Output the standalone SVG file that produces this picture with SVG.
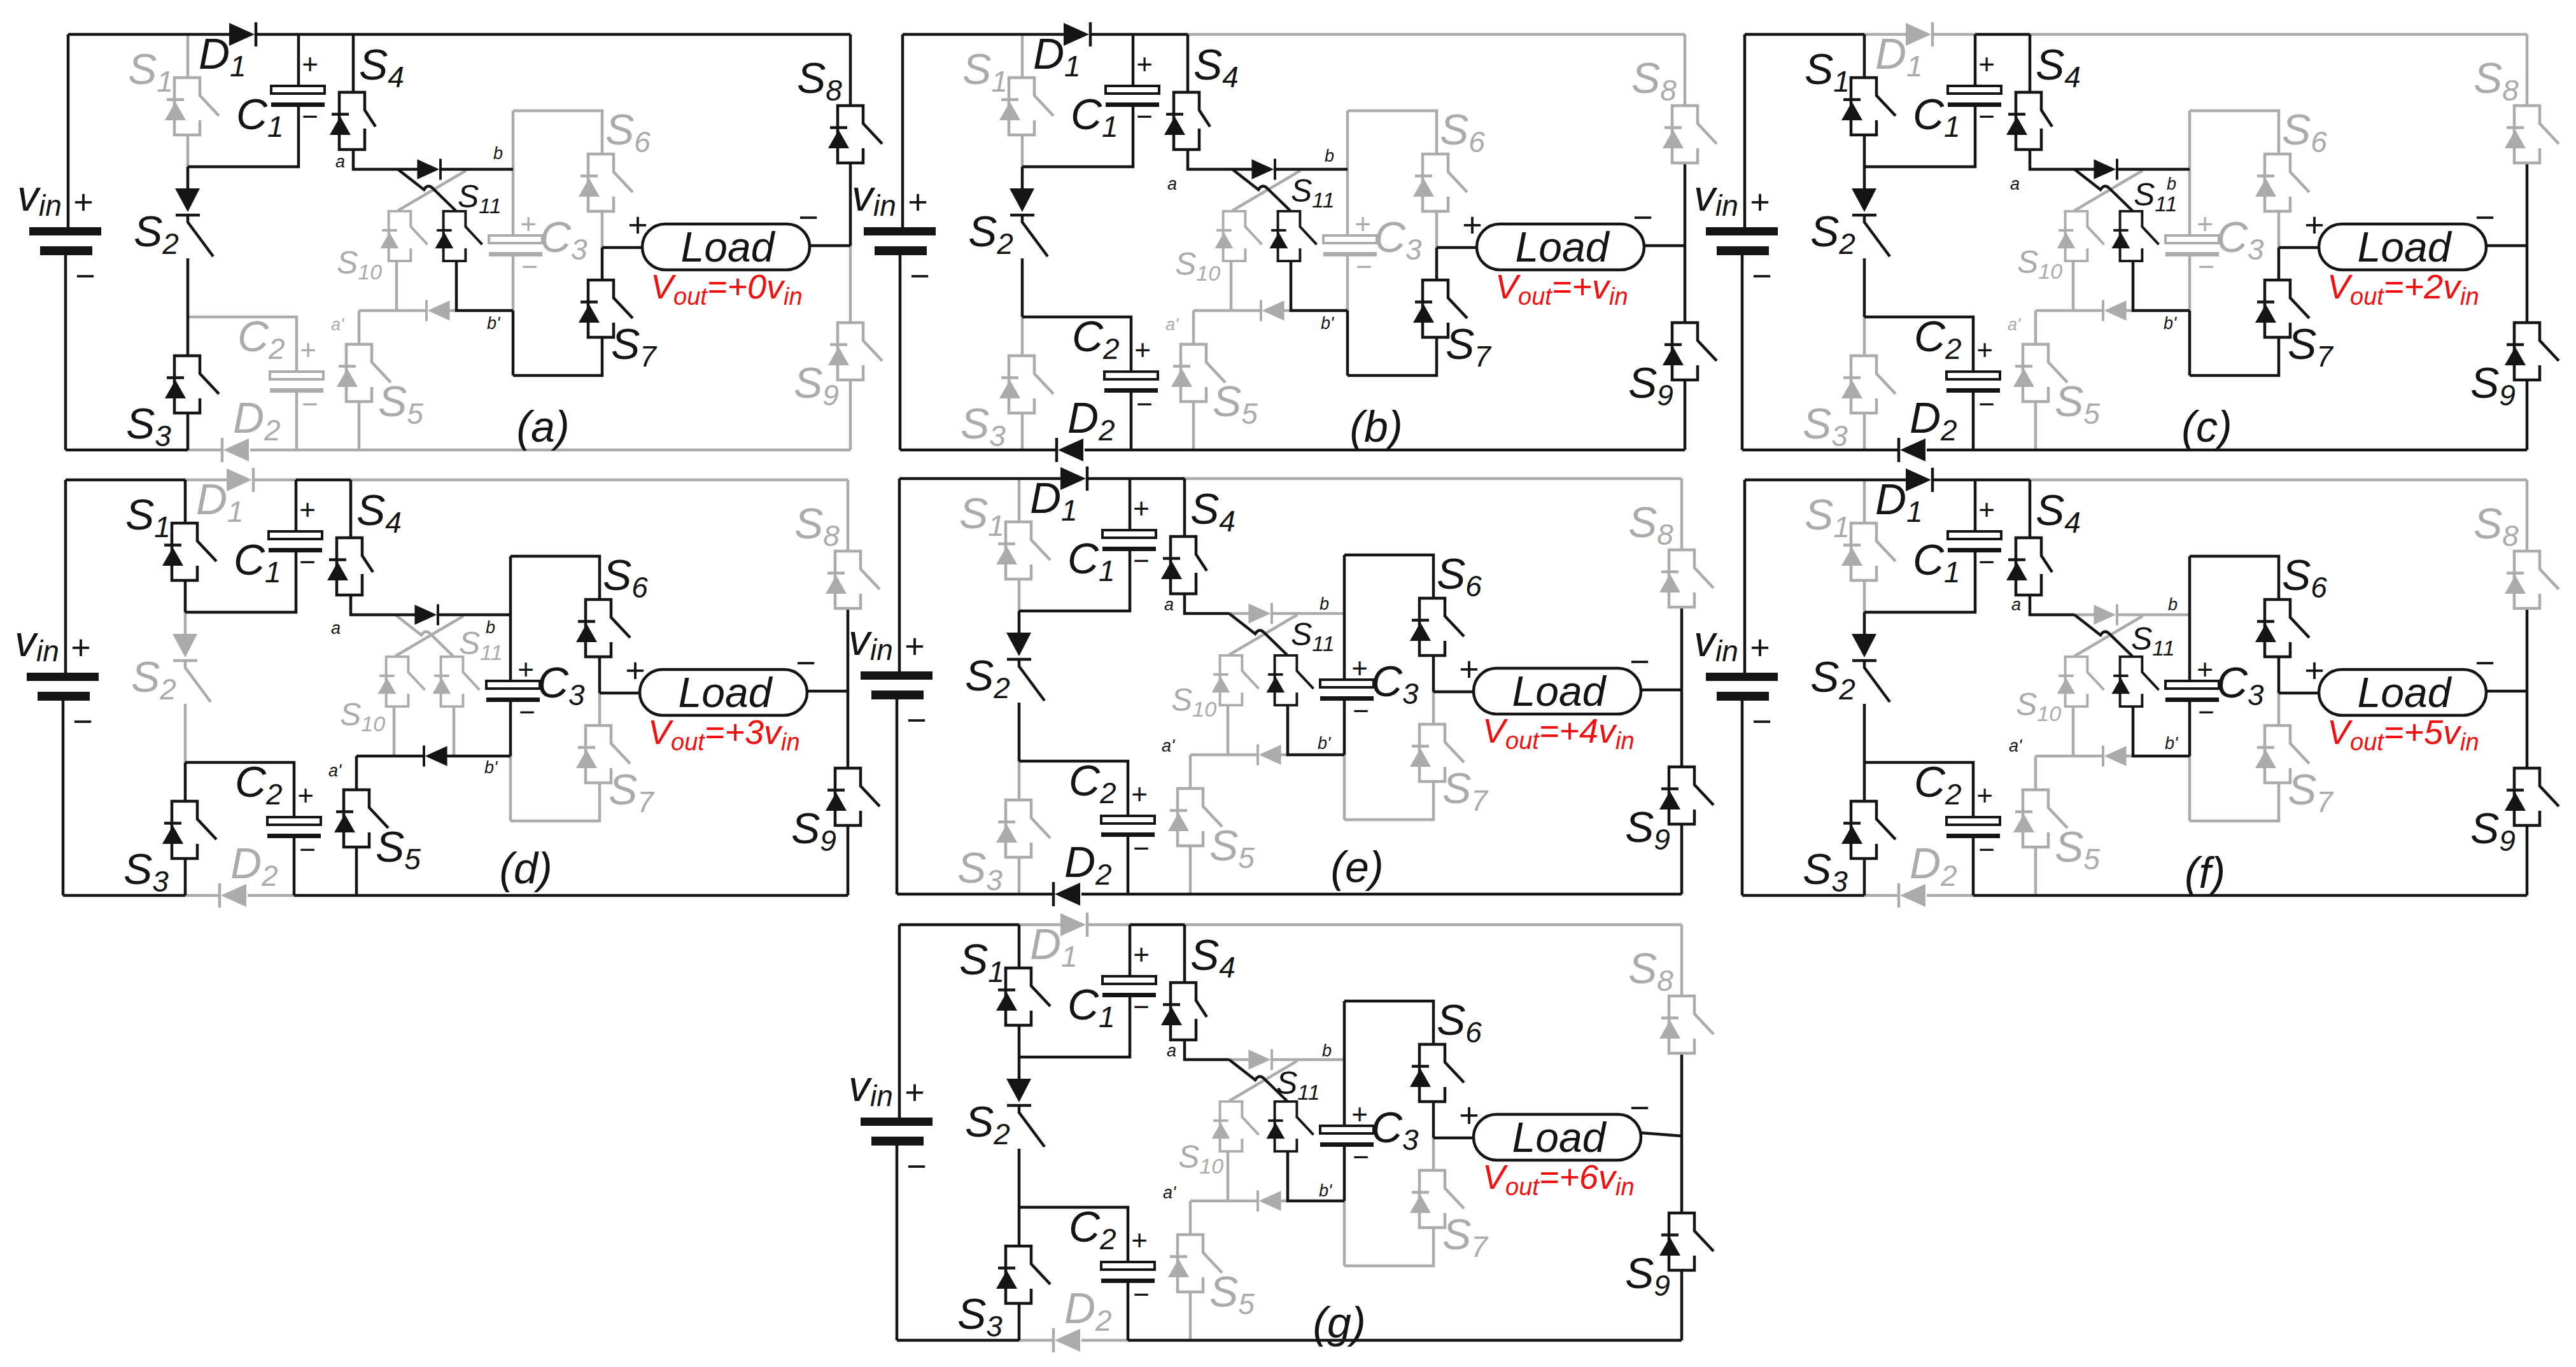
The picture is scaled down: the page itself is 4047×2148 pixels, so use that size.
<svg xmlns="http://www.w3.org/2000/svg" width="4047" height="2148" viewBox="0 0 4047 2148">
<style>
text{font-family:"Liberation Sans",Arial,sans-serif;font-style:italic;fill:currentColor}
.k{color:#141414}.g{color:#ababab}
.w{fill:none;stroke-width:4.5;stroke-linejoin:miter}.wk{stroke:#141414}.wg{stroke:#ababab}
.sy{fill:none;stroke:currentColor;stroke-width:4.5}
.fl{fill:currentColor;stroke:none}
.pw{fill:#fff;stroke:currentColor;stroke-width:4}
.n{font-size:68px}.u{font-size:46px}
.m{font-size:50px}.mu{font-size:34px}
.t{font-size:27px}
.p{font-size:54px;font-style:normal;text-anchor:middle}
.q{font-size:44px;font-style:normal;text-anchor:middle}
.ld{font-size:66px;text-anchor:middle}
.v{font-size:54px;color:#f01010}.vu{font-size:38px}
.cap{font-size:68px;text-anchor:middle}
.lr{fill:#fff;stroke:#141414;stroke-width:4.5}
</style>
<defs>
<g id="sw"><path class="sy" d="M20 22V45H-20V-45H20V-17L50 15"/><path class="fl" d="M-35 22H-2L-18.500 -7Z"/><path class="sy" d="M-32 -10.500H-5"/></g>
<g id="sw4"><path class="sy" d="M20 12V45H-20V-45H20V-17L37 9"/><path class="fl" d="M-35 22H-2L-18.500 -7Z"/><path class="sy" d="M-32 -10.500H-5"/></g>
<g id="s2"><path class="fl" d="M-20 -42H19L0 -5Z"/><path class="sy" d="M-19 0H19M0 0V11L40 65"/></g>
<g id="di"><path class="fl" d="M-42 -18V18L-2 0Z"/><path class="sy" d="M0 -19V19"/></g>
<g id="cp"><rect class="pw" x="-42" y="0" width="84" height="12"/><rect class="fl" x="-42" y="26" width="84" height="7"/></g>
</defs>

<g id="panel-a">
<g id="a-connectors">
<path class="w wg" d="M393 707H466M466 707H564M564 707H1336M295 707H349M1336 386V505M1336 598V707M295 54V122M295 211V262M295 498H466V584M466 616V707M732 268L625 331M623 411V488M564 488H670M705 488H717M564 488V539M564 632V707M806 174V370M806 403V488M806 174H946V242M946 332V389"/>
<path class="w wk" d="M107 54H360M402 54H1336M107 54V357M103 401V707M103 707H295M1336 54V166M1336 256V386M946 389H1009M1272 386H1336M295 262H469V168M469 54V135M295 262V296M295 406V498M295 498V559M295 650V707M555 54V146M555 235V266H656M692 266H806M625 266L666 298Q672 288 680 296L716 331M717 411V488H806M806 488V590M946 389V440M946 530V590H806"/>
</g>
<g id="a-vin" class="k"><rect class="fl" x="46" y="357" width="113" height="13"/><rect class="fl" x="63" y="387" width="82" height="14"/><text class="n" x="27" y="331">v<tspan class="u" dy="8">in</tspan></text><text class="p" x="131" y="336">+</text><text class="p" x="134" y="452">−</text></g>
<g id="a-D1" class="k"><use href="#di" transform="translate(402 54)"/><text class="n" x="312" y="108">D<tspan class="u" dy="12">1</tspan></text></g>
<g id="a-D2" class="g"><use href="#di" transform="translate(349 707) rotate(180)"/><text class="n" x="366" y="680">D<tspan class="u" dy="12">2</tspan></text></g>
<g id="a-S1" class="g"><use href="#sw" transform="translate(294 167)"/><text class="n" x="201" y="132">S<tspan class="u" dy="12">1</tspan></text></g>
<g id="a-S2" class="k"><use href="#s2" transform="translate(295 338)"/><text class="n" x="210" y="387">S<tspan class="u" dy="12">2</tspan></text></g>
<g id="a-S3" class="k"><use href="#sw" transform="translate(294 604)"/><text class="n" x="198" y="689">S<tspan class="u" dy="12">3</tspan></text></g>
<g id="a-S4" class="k"><use href="#sw4" transform="translate(553 190)"/><text class="n" x="564" y="125">S<tspan class="u" dy="12">4</tspan></text></g>
<g id="a-S5" class="g"><use href="#sw" transform="translate(564 586)"/><text class="n" x="594" y="654">S<tspan class="u" dy="12">5</tspan></text></g>
<g id="a-S6" class="g"><use href="#sw" transform="translate(944 287)"/><text class="n" x="951" y="227">S<tspan class="u" dy="12">6</tspan></text></g>
<g id="a-S7" class="k"><use href="#sw" transform="translate(944 485)"/><text class="n" x="960" y="564">S<tspan class="u" dy="12">7</tspan></text></g>
<g id="a-S8" class="k"><use href="#sw" transform="translate(1336 211)"/><text class="n" x="1252" y="146">S<tspan class="u" dy="12">8</tspan></text></g>
<g id="a-S9" class="g"><use href="#sw" transform="translate(1336 552)"/><text class="n" x="1247" y="625">S<tspan class="u" dy="12">9</tspan></text></g>
<g id="a-S10" class="g"><use href="#sw" transform="translate(628 371) scale(.87)"/><text class="m" x="529" y="430">S<tspan class="mu" dy="9">10</tspan></text></g>
<g id="a-S11" class="k"><use href="#sw" transform="translate(714 371) scale(.87)"/><text class="m" x="719" y="326">S<tspan class="mu" dy="9">11</tspan></text></g>
<g id="a-DU" class="k"><use href="#di" transform="translate(692 266) scale(.87)"/></g>
<g id="a-DL" class="g"><use href="#di" transform="translate(670 488) rotate(180) scale(.87)"/></g>
<g id="a-C1" class="k"><use href="#cp" transform="translate(468 135)"/><text class="n" x="371" y="203">C<tspan class="u" dy="12">1</tspan></text><text class="q" x="487" y="116">+</text><text class="q" x="487" y="198">−</text></g>
<g id="a-C2" class="g"><use href="#cp" transform="translate(466 584)"/><text class="n" x="373" y="552">C<tspan class="u" dy="12">2</tspan></text><text class="q" x="484" y="565">+</text><text class="q" x="487" y="650">−</text></g>
<g id="a-C3" class="g"><use href="#cp" transform="translate(810 370)"/><text class="n" x="848" y="396">C<tspan class="u" dy="12">3</tspan></text><text class="q" x="830" y="367">+</text><text class="q" x="832" y="434">−</text></g>
<g id="a-Load" class="k"><rect class="lr" x="1009" y="352" width="263" height="72" rx="36"/><text class="ld" x="1143" y="411">Load</text><text class="p" x="1002" y="372">+</text><text class="p" x="1270" y="360">−</text></g>
<text class="v" x="1022" y="469">V<tspan class="vu" dy="10">out</tspan><tspan dy="-10">=+0v</tspan><tspan class="vu" dy="10">in</tspan></text>
<text class="t k" x="527" y="263">a</text><text class="t k" x="775" y="250">b</text><text class="t g" x="520" y="519">a'</text><text class="t k" x="765" y="517">b'</text>
<text class="cap k" x="853" y="694">(a)</text>
</g>

<g id="panel-b" transform="translate(1311 0)">
<g id="b-connectors">
<path class="w wg" d="M555 54H1336M1336 54V166M295 54V122M295 211V262M295 498V559M295 650V707M732 268L625 331M623 411V488M564 488H670M705 488H717M564 488V539M564 632V707M806 174V370M806 403V488M806 174H946V242M946 332V389"/>
<path class="w wk" d="M107 54H360M402 54H555M107 54V357M103 401V707M103 707H349M393 707H1336M1336 256V386M946 389H1009M1272 386H1336M1336 386V505M1336 598V707M295 262H469V168M469 54V135M295 262V296M295 406V498M295 498H466V584M466 616V707M555 54V146M555 235V266H656M692 266H806M625 266L666 298Q672 288 680 296L716 331M717 411V488H806M806 488V590M946 389V440M946 530V590H806"/>
</g>
<g id="b-vin" class="k"><rect class="fl" x="46" y="357" width="113" height="13"/><rect class="fl" x="63" y="387" width="82" height="14"/><text class="n" x="27" y="331">v<tspan class="u" dy="8">in</tspan></text><text class="p" x="131" y="336">+</text><text class="p" x="134" y="452">−</text></g>
<g id="b-D1" class="k"><use href="#di" transform="translate(402 54)"/><text class="n" x="312" y="108">D<tspan class="u" dy="12">1</tspan></text></g>
<g id="b-D2" class="k"><use href="#di" transform="translate(349 707) rotate(180)"/><text class="n" x="366" y="680">D<tspan class="u" dy="12">2</tspan></text></g>
<g id="b-S1" class="g"><use href="#sw" transform="translate(294 167)"/><text class="n" x="201" y="132">S<tspan class="u" dy="12">1</tspan></text></g>
<g id="b-S2" class="k"><use href="#s2" transform="translate(295 338)"/><text class="n" x="210" y="387">S<tspan class="u" dy="12">2</tspan></text></g>
<g id="b-S3" class="g"><use href="#sw" transform="translate(294 604)"/><text class="n" x="198" y="689">S<tspan class="u" dy="12">3</tspan></text></g>
<g id="b-S4" class="k"><use href="#sw4" transform="translate(553 190)"/><text class="n" x="564" y="125">S<tspan class="u" dy="12">4</tspan></text></g>
<g id="b-S5" class="g"><use href="#sw" transform="translate(564 586)"/><text class="n" x="594" y="654">S<tspan class="u" dy="12">5</tspan></text></g>
<g id="b-S6" class="g"><use href="#sw" transform="translate(944 287)"/><text class="n" x="951" y="227">S<tspan class="u" dy="12">6</tspan></text></g>
<g id="b-S7" class="k"><use href="#sw" transform="translate(944 485)"/><text class="n" x="960" y="564">S<tspan class="u" dy="12">7</tspan></text></g>
<g id="b-S8" class="g"><use href="#sw" transform="translate(1336 211)"/><text class="n" x="1252" y="146">S<tspan class="u" dy="12">8</tspan></text></g>
<g id="b-S9" class="k"><use href="#sw" transform="translate(1336 552)"/><text class="n" x="1247" y="625">S<tspan class="u" dy="12">9</tspan></text></g>
<g id="b-S10" class="g"><use href="#sw" transform="translate(628 371) scale(.87)"/><text class="m" x="535" y="432">S<tspan class="mu" dy="9">10</tspan></text></g>
<g id="b-S11" class="k"><use href="#sw" transform="translate(714 371) scale(.87)"/><text class="m" x="717" y="317">S<tspan class="mu" dy="9">11</tspan></text></g>
<g id="b-DU" class="k"><use href="#di" transform="translate(692 266) scale(.87)"/></g>
<g id="b-DL" class="g"><use href="#di" transform="translate(670 488) rotate(180) scale(.87)"/></g>
<g id="b-C1" class="k"><use href="#cp" transform="translate(468 135)"/><text class="n" x="371" y="203">C<tspan class="u" dy="12">1</tspan></text><text class="q" x="487" y="116">+</text><text class="q" x="487" y="198">−</text></g>
<g id="b-C2" class="k"><use href="#cp" transform="translate(466 584)"/><text class="n" x="373" y="552">C<tspan class="u" dy="12">2</tspan></text><text class="q" x="484" y="565">+</text><text class="q" x="487" y="650">−</text></g>
<g id="b-C3" class="g"><use href="#cp" transform="translate(810 370)"/><text class="n" x="848" y="396">C<tspan class="u" dy="12">3</tspan></text><text class="q" x="830" y="367">+</text><text class="q" x="832" y="434">−</text></g>
<g id="b-Load" class="k"><rect class="lr" x="1009" y="352" width="263" height="72" rx="36"/><text class="ld" x="1143" y="411">Load</text><text class="p" x="1002" y="372">+</text><text class="p" x="1270" y="360">−</text></g>
<text class="v" x="1038" y="469">V<tspan class="vu" dy="10">out</tspan><tspan dy="-10">=+v</tspan><tspan class="vu" dy="10">in</tspan></text>
<text class="t k" x="523" y="298">a</text><text class="t k" x="770" y="254">b</text><text class="t g" x="520" y="519">a'</text><text class="t k" x="764" y="517">b'</text>
<text class="cap k" x="851" y="694">(b)</text>
</g>

<g id="panel-c" transform="translate(2634 0)">
<g id="c-connectors">
<path class="w wg" d="M295 54H360M402 54H469M555 54H1336M1336 54V166M295 498V559M295 650V707M732 268L625 331M623 411V488M564 488H670M705 488H717M564 488V539M564 632V707M806 174V370M806 403V488M806 174H946V242M946 332V389"/>
<path class="w wk" d="M107 54H295M469 54H555M107 54V357M103 401V707M103 707H349M393 707H1336M1336 256V386M946 389H1009M1272 386H1336M1336 386V505M1336 598V707M295 54V122M295 211V262M295 262H469V168M469 54V135M295 262V296M295 406V498M295 498H466V584M466 616V707M555 54V146M555 235V266H656M692 266H806M625 266L666 298Q672 288 680 296L716 331M717 411V488H806M806 488V590M946 389V440M946 530V590H806"/>
</g>
<g id="c-vin" class="k"><rect class="fl" x="46" y="357" width="113" height="13"/><rect class="fl" x="63" y="387" width="82" height="14"/><text class="n" x="27" y="331">v<tspan class="u" dy="8">in</tspan></text><text class="p" x="131" y="336">+</text><text class="p" x="134" y="452">−</text></g>
<g id="c-D1" class="g"><use href="#di" transform="translate(402 54)"/><text class="n" x="312" y="108">D<tspan class="u" dy="12">1</tspan></text></g>
<g id="c-D2" class="k"><use href="#di" transform="translate(349 707) rotate(180)"/><text class="n" x="366" y="680">D<tspan class="u" dy="12">2</tspan></text></g>
<g id="c-S1" class="k"><use href="#sw" transform="translate(294 167)"/><text class="n" x="201" y="132">S<tspan class="u" dy="12">1</tspan></text></g>
<g id="c-S2" class="k"><use href="#s2" transform="translate(295 338)"/><text class="n" x="210" y="387">S<tspan class="u" dy="12">2</tspan></text></g>
<g id="c-S3" class="g"><use href="#sw" transform="translate(294 604)"/><text class="n" x="198" y="689">S<tspan class="u" dy="12">3</tspan></text></g>
<g id="c-S4" class="k"><use href="#sw4" transform="translate(553 190)"/><text class="n" x="564" y="125">S<tspan class="u" dy="12">4</tspan></text></g>
<g id="c-S5" class="g"><use href="#sw" transform="translate(564 586)"/><text class="n" x="594" y="654">S<tspan class="u" dy="12">5</tspan></text></g>
<g id="c-S6" class="g"><use href="#sw" transform="translate(944 287)"/><text class="n" x="951" y="227">S<tspan class="u" dy="12">6</tspan></text></g>
<g id="c-S7" class="k"><use href="#sw" transform="translate(944 485)"/><text class="n" x="960" y="564">S<tspan class="u" dy="12">7</tspan></text></g>
<g id="c-S8" class="g"><use href="#sw" transform="translate(1336 211)"/><text class="n" x="1252" y="146">S<tspan class="u" dy="12">8</tspan></text></g>
<g id="c-S9" class="k"><use href="#sw" transform="translate(1336 552)"/><text class="n" x="1247" y="625">S<tspan class="u" dy="12">9</tspan></text></g>
<g id="c-S10" class="g"><use href="#sw" transform="translate(628 371) scale(.87)"/><text class="m" x="535" y="429">S<tspan class="mu" dy="9">10</tspan></text></g>
<g id="c-S11" class="k"><use href="#sw" transform="translate(714 371) scale(.87)"/><text class="m" x="718" y="323">S<tspan class="mu" dy="9">11</tspan></text></g>
<g id="c-DU" class="k"><use href="#di" transform="translate(692 266) scale(.87)"/></g>
<g id="c-DL" class="g"><use href="#di" transform="translate(670 488) rotate(180) scale(.87)"/></g>
<g id="c-C1" class="k"><use href="#cp" transform="translate(468 135)"/><text class="n" x="371" y="203">C<tspan class="u" dy="12">1</tspan></text><text class="q" x="487" y="116">+</text><text class="q" x="487" y="198">−</text></g>
<g id="c-C2" class="k"><use href="#cp" transform="translate(466 584)"/><text class="n" x="373" y="552">C<tspan class="u" dy="12">2</tspan></text><text class="q" x="484" y="565">+</text><text class="q" x="487" y="650">−</text></g>
<g id="c-C3" class="g"><use href="#cp" transform="translate(810 370)"/><text class="n" x="848" y="396">C<tspan class="u" dy="12">3</tspan></text><text class="q" x="830" y="367">+</text><text class="q" x="832" y="434">−</text></g>
<g id="c-Load" class="k"><rect class="lr" x="1009" y="352" width="263" height="72" rx="36"/><text class="ld" x="1143" y="411">Load</text><text class="p" x="1002" y="372">+</text><text class="p" x="1270" y="360">−</text></g>
<text class="v" x="1022" y="469">V<tspan class="vu" dy="10">out</tspan><tspan dy="-10">=+2v</tspan><tspan class="vu" dy="10">in</tspan></text>
<text class="t k" x="524" y="298">a</text><text class="t k" x="770" y="298">b</text><text class="t g" x="520" y="519">a'</text><text class="t k" x="765" y="517">b'</text>
<text class="cap k" x="833" y="694">(c)</text>
</g>

<g id="panel-d" transform="translate(-4 700)">
<g id="d-connectors">
<path class="w wg" d="M295 54H360M402 54H469M555 54H1336M295 707H349M393 707H466M1336 54V166M295 262V296M295 406V498M625 266L666 298Q672 288 680 296L716 331M732 268L625 331M717 411V488M623 411V488M806 488V590M946 389V440M946 530V590H806"/>
<path class="w wk" d="M107 54H295M469 54H555M107 54V357M103 401V707M103 707H295M466 707H1336M1336 256V386M946 389H1009M1272 386H1336M1336 386V505M1336 598V707M295 54V122M295 211V262M295 262H469V168M469 54V135M295 498H466V584M466 616V707M295 498V559M295 650V707M555 54V146M555 235V266H656M692 266H806M564 488H670M705 488H806M564 488V539M564 632V707M806 174V370M806 403V488M806 174H946V242M946 332V389"/>
</g>
<g id="d-vin" class="k"><rect class="fl" x="46" y="357" width="113" height="13"/><rect class="fl" x="63" y="387" width="82" height="14"/><text class="n" x="27" y="331">v<tspan class="u" dy="8">in</tspan></text><text class="p" x="131" y="336">+</text><text class="p" x="134" y="452">−</text></g>
<g id="d-D1" class="g"><use href="#di" transform="translate(402 54)"/><text class="n" x="312" y="108">D<tspan class="u" dy="12">1</tspan></text></g>
<g id="d-D2" class="g"><use href="#di" transform="translate(349 707) rotate(180)"/><text class="n" x="366" y="680">D<tspan class="u" dy="12">2</tspan></text></g>
<g id="d-S1" class="k"><use href="#sw" transform="translate(294 167)"/><text class="n" x="201" y="132">S<tspan class="u" dy="12">1</tspan></text></g>
<g id="d-S2" class="g"><use href="#s2" transform="translate(295 338)"/><text class="n" x="210" y="387">S<tspan class="u" dy="12">2</tspan></text></g>
<g id="d-S3" class="k"><use href="#sw" transform="translate(294 604)"/><text class="n" x="198" y="689">S<tspan class="u" dy="12">3</tspan></text></g>
<g id="d-S4" class="k"><use href="#sw4" transform="translate(553 190)"/><text class="n" x="564" y="125">S<tspan class="u" dy="12">4</tspan></text></g>
<g id="d-S5" class="k"><use href="#sw" transform="translate(564 586)"/><text class="n" x="594" y="654">S<tspan class="u" dy="12">5</tspan></text></g>
<g id="d-S6" class="k"><use href="#sw" transform="translate(944 287)"/><text class="n" x="951" y="227">S<tspan class="u" dy="12">6</tspan></text></g>
<g id="d-S7" class="g"><use href="#sw" transform="translate(944 485)"/><text class="n" x="960" y="564">S<tspan class="u" dy="12">7</tspan></text></g>
<g id="d-S8" class="g"><use href="#sw" transform="translate(1336 211)"/><text class="n" x="1252" y="146">S<tspan class="u" dy="12">8</tspan></text></g>
<g id="d-S9" class="k"><use href="#sw" transform="translate(1336 552)"/><text class="n" x="1247" y="625">S<tspan class="u" dy="12">9</tspan></text></g>
<g id="d-S10" class="g"><use href="#sw" transform="translate(628 371) scale(.87)"/><text class="m" x="538" y="440">S<tspan class="mu" dy="9">10</tspan></text></g>
<g id="d-S11" class="g"><use href="#sw" transform="translate(714 371) scale(.87)"/><text class="m" x="725" y="328">S<tspan class="mu" dy="9">11</tspan></text></g>
<g id="d-DU" class="k"><use href="#di" transform="translate(692 266) scale(.87)"/></g>
<g id="d-DL" class="k"><use href="#di" transform="translate(670 488) rotate(180) scale(.87)"/></g>
<g id="d-C1" class="k"><use href="#cp" transform="translate(468 135)"/><text class="n" x="371" y="203">C<tspan class="u" dy="12">1</tspan></text><text class="q" x="487" y="116">+</text><text class="q" x="487" y="198">−</text></g>
<g id="d-C2" class="k"><use href="#cp" transform="translate(466 584)"/><text class="n" x="373" y="552">C<tspan class="u" dy="12">2</tspan></text><text class="q" x="484" y="565">+</text><text class="q" x="487" y="650">−</text></g>
<g id="d-C3" class="k"><use href="#cp" transform="translate(810 370)"/><text class="n" x="848" y="396">C<tspan class="u" dy="12">3</tspan></text><text class="q" x="830" y="367">+</text><text class="q" x="832" y="434">−</text></g>
<g id="d-Load" class="k"><rect class="lr" x="1009" y="352" width="263" height="72" rx="36"/><text class="ld" x="1143" y="411">Load</text><text class="p" x="1002" y="372">+</text><text class="p" x="1270" y="360">−</text></g>
<text class="v" x="1022" y="469">V<tspan class="vu" dy="10">out</tspan><tspan dy="-10">=+3v</tspan><tspan class="vu" dy="10">in</tspan></text>
<text class="t k" x="524" y="296">a</text><text class="t k" x="767" y="295">b</text><text class="t k" x="520" y="520">a'</text><text class="t k" x="765" y="515">b'</text>
<text class="cap k" x="830" y="688">(d)</text>
</g>

<g id="panel-e" transform="translate(1306 698)">
<g id="e-connectors">
<path class="w wg" d="M555 54H1336M1336 54V166M295 54V122M295 211V262M295 498V559M295 650V707M625 266H656M692 266H806M732 268L625 331M623 411V488M564 488H670M705 488H717M564 488V539M564 632V707M806 488V590M946 389V440M946 530V590H806"/>
<path class="w wk" d="M107 54H360M402 54H555M107 54V357M103 401V707M103 707H349M393 707H1336M1336 256V386M946 389H1009M1272 386H1336M1336 386V505M1336 598V707M295 262H469V168M469 54V135M295 262V296M295 406V498M295 498H466V584M466 616V707M555 54V146M555 235V266H625M625 266L666 298Q672 288 680 296L716 331M717 411V488H806M806 174V370M806 403V488M806 174H946V242M946 332V389"/>
</g>
<g id="e-vin" class="k"><rect class="fl" x="46" y="357" width="113" height="13"/><rect class="fl" x="63" y="387" width="82" height="14"/><text class="n" x="27" y="331">v<tspan class="u" dy="8">in</tspan></text><text class="p" x="131" y="336">+</text><text class="p" x="134" y="452">−</text></g>
<g id="e-D1" class="k"><use href="#di" transform="translate(402 54)"/><text class="n" x="312" y="108">D<tspan class="u" dy="12">1</tspan></text></g>
<g id="e-D2" class="k"><use href="#di" transform="translate(349 707) rotate(180)"/><text class="n" x="366" y="680">D<tspan class="u" dy="12">2</tspan></text></g>
<g id="e-S1" class="g"><use href="#sw" transform="translate(294 167)"/><text class="n" x="201" y="132">S<tspan class="u" dy="12">1</tspan></text></g>
<g id="e-S2" class="k"><use href="#s2" transform="translate(295 338)"/><text class="n" x="210" y="387">S<tspan class="u" dy="12">2</tspan></text></g>
<g id="e-S3" class="g"><use href="#sw" transform="translate(294 604)"/><text class="n" x="198" y="689">S<tspan class="u" dy="12">3</tspan></text></g>
<g id="e-S4" class="k"><use href="#sw4" transform="translate(553 190)"/><text class="n" x="564" y="125">S<tspan class="u" dy="12">4</tspan></text></g>
<g id="e-S5" class="g"><use href="#sw" transform="translate(564 586)"/><text class="n" x="594" y="654">S<tspan class="u" dy="12">5</tspan></text></g>
<g id="e-S6" class="k"><use href="#sw" transform="translate(944 287)"/><text class="n" x="951" y="227">S<tspan class="u" dy="12">6</tspan></text></g>
<g id="e-S7" class="g"><use href="#sw" transform="translate(944 485)"/><text class="n" x="960" y="564">S<tspan class="u" dy="12">7</tspan></text></g>
<g id="e-S8" class="g"><use href="#sw" transform="translate(1336 211)"/><text class="n" x="1252" y="146">S<tspan class="u" dy="12">8</tspan></text></g>
<g id="e-S9" class="k"><use href="#sw" transform="translate(1336 552)"/><text class="n" x="1247" y="625">S<tspan class="u" dy="12">9</tspan></text></g>
<g id="e-S10" class="g"><use href="#sw" transform="translate(628 371) scale(.87)"/><text class="m" x="534" y="419">S<tspan class="mu" dy="9">10</tspan></text></g>
<g id="e-S11" class="k"><use href="#sw" transform="translate(714 371) scale(.87)"/><text class="m" x="722" y="316">S<tspan class="mu" dy="9">11</tspan></text></g>
<g id="e-DU" class="g"><use href="#di" transform="translate(692 266) scale(.87)"/></g>
<g id="e-DL" class="g"><use href="#di" transform="translate(670 488) rotate(180) scale(.87)"/></g>
<g id="e-C1" class="k"><use href="#cp" transform="translate(468 135)"/><text class="n" x="371" y="203">C<tspan class="u" dy="12">1</tspan></text><text class="q" x="487" y="116">+</text><text class="q" x="487" y="198">−</text></g>
<g id="e-C2" class="k"><use href="#cp" transform="translate(466 584)"/><text class="n" x="373" y="552">C<tspan class="u" dy="12">2</tspan></text><text class="q" x="484" y="565">+</text><text class="q" x="487" y="650">−</text></g>
<g id="e-C3" class="k"><use href="#cp" transform="translate(810 370)"/><text class="n" x="848" y="396">C<tspan class="u" dy="12">3</tspan></text><text class="q" x="830" y="367">+</text><text class="q" x="832" y="434">−</text></g>
<g id="e-Load" class="k"><rect class="lr" x="1009" y="352" width="263" height="72" rx="36"/><text class="ld" x="1143" y="411">Load</text><text class="p" x="1002" y="372">+</text><text class="p" x="1270" y="360">−</text></g>
<text class="v" x="1023" y="469">V<tspan class="vu" dy="10">out</tspan><tspan dy="-10">=+4v</tspan><tspan class="vu" dy="10">in</tspan></text>
<text class="t k" x="523" y="261">a</text><text class="t k" x="767" y="260">b</text><text class="t k" x="519" y="483">a'</text><text class="t k" x="764" y="479">b'</text>
<text class="cap k" x="826" y="688">(e)</text>
</g>

<g id="panel-f" transform="translate(2634 700)">
<g id="f-connectors">
<path class="w wg" d="M555 54H1336M295 707H349M393 707H466M1336 54V166M295 54V122M295 211V262M625 266H656M692 266H806M732 268L625 331M623 411V488M564 488H670M705 488H717M564 488V539M564 632V707M806 488V590M946 389V440M946 530V590H806"/>
<path class="w wk" d="M107 54H360M402 54H555M107 54V357M103 401V707M103 707H295M466 707H1336M1336 256V386M946 389H1009M1272 386H1336M1336 386V505M1336 598V707M295 262H469V168M469 54V135M295 262V296M295 406V498M295 498H466V584M466 616V707M295 498V559M295 650V707M555 54V146M555 235V266H625M625 266L666 298Q672 288 680 296L716 331M717 411V488H806M806 174V370M806 403V488M806 174H946V242M946 332V389"/>
</g>
<g id="f-vin" class="k"><rect class="fl" x="46" y="357" width="113" height="13"/><rect class="fl" x="63" y="387" width="82" height="14"/><text class="n" x="27" y="331">v<tspan class="u" dy="8">in</tspan></text><text class="p" x="131" y="336">+</text><text class="p" x="134" y="452">−</text></g>
<g id="f-D1" class="k"><use href="#di" transform="translate(402 54)"/><text class="n" x="312" y="108">D<tspan class="u" dy="12">1</tspan></text></g>
<g id="f-D2" class="g"><use href="#di" transform="translate(349 707) rotate(180)"/><text class="n" x="366" y="680">D<tspan class="u" dy="12">2</tspan></text></g>
<g id="f-S1" class="g"><use href="#sw" transform="translate(294 167)"/><text class="n" x="201" y="132">S<tspan class="u" dy="12">1</tspan></text></g>
<g id="f-S2" class="k"><use href="#s2" transform="translate(295 338)"/><text class="n" x="210" y="387">S<tspan class="u" dy="12">2</tspan></text></g>
<g id="f-S3" class="k"><use href="#sw" transform="translate(294 604)"/><text class="n" x="198" y="689">S<tspan class="u" dy="12">3</tspan></text></g>
<g id="f-S4" class="k"><use href="#sw4" transform="translate(553 190)"/><text class="n" x="564" y="125">S<tspan class="u" dy="12">4</tspan></text></g>
<g id="f-S5" class="g"><use href="#sw" transform="translate(564 586)"/><text class="n" x="594" y="654">S<tspan class="u" dy="12">5</tspan></text></g>
<g id="f-S6" class="k"><use href="#sw" transform="translate(944 287)"/><text class="n" x="951" y="227">S<tspan class="u" dy="12">6</tspan></text></g>
<g id="f-S7" class="g"><use href="#sw" transform="translate(944 485)"/><text class="n" x="960" y="564">S<tspan class="u" dy="12">7</tspan></text></g>
<g id="f-S8" class="g"><use href="#sw" transform="translate(1336 211)"/><text class="n" x="1252" y="146">S<tspan class="u" dy="12">8</tspan></text></g>
<g id="f-S9" class="k"><use href="#sw" transform="translate(1336 552)"/><text class="n" x="1247" y="625">S<tspan class="u" dy="12">9</tspan></text></g>
<g id="f-S10" class="g"><use href="#sw" transform="translate(628 371) scale(.87)"/><text class="m" x="533" y="424">S<tspan class="mu" dy="9">10</tspan></text></g>
<g id="f-S11" class="k"><use href="#sw" transform="translate(714 371) scale(.87)"/><text class="m" x="714" y="321">S<tspan class="mu" dy="9">11</tspan></text></g>
<g id="f-DU" class="g"><use href="#di" transform="translate(692 266) scale(.87)"/></g>
<g id="f-DL" class="g"><use href="#di" transform="translate(670 488) rotate(180) scale(.87)"/></g>
<g id="f-C1" class="k"><use href="#cp" transform="translate(468 135)"/><text class="n" x="371" y="203">C<tspan class="u" dy="12">1</tspan></text><text class="q" x="487" y="116">+</text><text class="q" x="487" y="198">−</text></g>
<g id="f-C2" class="k"><use href="#cp" transform="translate(466 584)"/><text class="n" x="373" y="552">C<tspan class="u" dy="12">2</tspan></text><text class="q" x="484" y="565">+</text><text class="q" x="487" y="650">−</text></g>
<g id="f-C3" class="k"><use href="#cp" transform="translate(810 370)"/><text class="n" x="848" y="396">C<tspan class="u" dy="12">3</tspan></text><text class="q" x="830" y="367">+</text><text class="q" x="832" y="434">−</text></g>
<g id="f-Load" class="k"><rect class="lr" x="1009" y="352" width="263" height="72" rx="36"/><text class="ld" x="1143" y="411">Load</text><text class="p" x="1002" y="372">+</text><text class="p" x="1270" y="360">−</text></g>
<text class="v" x="1022" y="469">V<tspan class="vu" dy="10">out</tspan><tspan dy="-10">=+5v</tspan><tspan class="vu" dy="10">in</tspan></text>
<text class="t k" x="526" y="259">a</text><text class="t k" x="772" y="259">b</text><text class="t k" x="522" y="481">a'</text><text class="t k" x="767" y="477">b'</text>
<text class="cap k" x="830" y="695">(f)</text>
</g>

<g id="panel-g" transform="translate(1306 1399)">
<g id="g-connectors">
<path class="w wg" d="M295 54H360M402 54H469M555 54H1336M295 707H349M393 707H466M1336 54V166M625 266H656M692 266H806M732 268L625 331M623 411V488M564 488H670M705 488H717M564 488V539M564 632V707M806 488V590M946 389V440M946 530V590H806"/>
<path class="w wk" d="M107 54H295M469 54H555M107 54V357M103 401V707M103 707H295M466 707H1336M1336 256V386M946 389H1009M1272 381L1336 386M1336 386V505M1336 598V707M295 54V122M295 211V262M295 262H469V168M469 54V135M295 262V296M295 406V498M295 498H466V584M466 616V707M295 498V559M295 650V707M555 54V146M555 235V266H625M625 266L666 298Q672 288 680 296L716 331M717 411V488H806M806 174V370M806 403V488M806 174H946V242M946 332V389"/>
</g>
<g id="g-vin" class="k"><rect class="fl" x="46" y="357" width="113" height="13"/><rect class="fl" x="63" y="387" width="82" height="14"/><text class="n" x="27" y="331">v<tspan class="u" dy="8">in</tspan></text><text class="p" x="131" y="336">+</text><text class="p" x="134" y="452">−</text></g>
<g id="g-D1" class="g"><use href="#di" transform="translate(402 54)"/><text class="n" x="312" y="108">D<tspan class="u" dy="12">1</tspan></text></g>
<g id="g-D2" class="g"><use href="#di" transform="translate(349 707) rotate(180)"/><text class="n" x="366" y="680">D<tspan class="u" dy="12">2</tspan></text></g>
<g id="g-S1" class="k"><use href="#sw" transform="translate(294 167)"/><text class="n" x="201" y="132">S<tspan class="u" dy="12">1</tspan></text></g>
<g id="g-S2" class="k"><use href="#s2" transform="translate(295 338)"/><text class="n" x="210" y="387">S<tspan class="u" dy="12">2</tspan></text></g>
<g id="g-S3" class="k"><use href="#sw" transform="translate(294 604)"/><text class="n" x="198" y="689">S<tspan class="u" dy="12">3</tspan></text></g>
<g id="g-S4" class="k"><use href="#sw4" transform="translate(553 190)"/><text class="n" x="564" y="125">S<tspan class="u" dy="12">4</tspan></text></g>
<g id="g-S5" class="g"><use href="#sw" transform="translate(564 586)"/><text class="n" x="594" y="654">S<tspan class="u" dy="12">5</tspan></text></g>
<g id="g-S6" class="k"><use href="#sw" transform="translate(944 287)"/><text class="n" x="951" y="227">S<tspan class="u" dy="12">6</tspan></text></g>
<g id="g-S7" class="g"><use href="#sw" transform="translate(944 485)"/><text class="n" x="960" y="564">S<tspan class="u" dy="12">7</tspan></text></g>
<g id="g-S8" class="g"><use href="#sw" transform="translate(1336 211)"/><text class="n" x="1252" y="146">S<tspan class="u" dy="12">8</tspan></text></g>
<g id="g-S9" class="k"><use href="#sw" transform="translate(1336 552)"/><text class="n" x="1247" y="625">S<tspan class="u" dy="12">9</tspan></text></g>
<g id="g-S10" class="g"><use href="#sw" transform="translate(628 371) scale(.87)"/><text class="m" x="545" y="436">S<tspan class="mu" dy="9">10</tspan></text></g>
<g id="g-S11" class="k"><use href="#sw" transform="translate(714 371) scale(.87)"/><text class="m" x="699" y="320">S<tspan class="mu" dy="9">11</tspan></text></g>
<g id="g-DU" class="g"><use href="#di" transform="translate(692 266) scale(.87)"/></g>
<g id="g-DL" class="g"><use href="#di" transform="translate(670 488) rotate(180) scale(.87)"/></g>
<g id="g-C1" class="k"><use href="#cp" transform="translate(468 135)"/><text class="n" x="371" y="203">C<tspan class="u" dy="12">1</tspan></text><text class="q" x="487" y="116">+</text><text class="q" x="487" y="198">−</text></g>
<g id="g-C2" class="k"><use href="#cp" transform="translate(466 584)"/><text class="n" x="373" y="552">C<tspan class="u" dy="12">2</tspan></text><text class="q" x="484" y="565">+</text><text class="q" x="487" y="650">−</text></g>
<g id="g-C3" class="k"><use href="#cp" transform="translate(810 370)"/><text class="n" x="848" y="396">C<tspan class="u" dy="12">3</tspan></text><text class="q" x="830" y="367">+</text><text class="q" x="832" y="434">−</text></g>
<g id="g-Load" class="k"><rect class="lr" x="1009" y="352" width="263" height="72" rx="36"/><text class="ld" x="1143" y="411">Load</text><text class="p" x="1002" y="372">+</text><text class="p" x="1270" y="360">−</text></g>
<text class="v" x="1023" y="469">V<tspan class="vu" dy="10">out</tspan><tspan dy="-10">=+6v</tspan><tspan class="vu" dy="10">in</tspan></text>
<text class="t k" x="527" y="261">a</text><text class="t k" x="771" y="261">b</text><text class="t k" x="521" y="484">a'</text><text class="t k" x="766" y="481">b'</text>
<text class="cap k" x="798" y="703">(g)</text>
</g>
</svg>
